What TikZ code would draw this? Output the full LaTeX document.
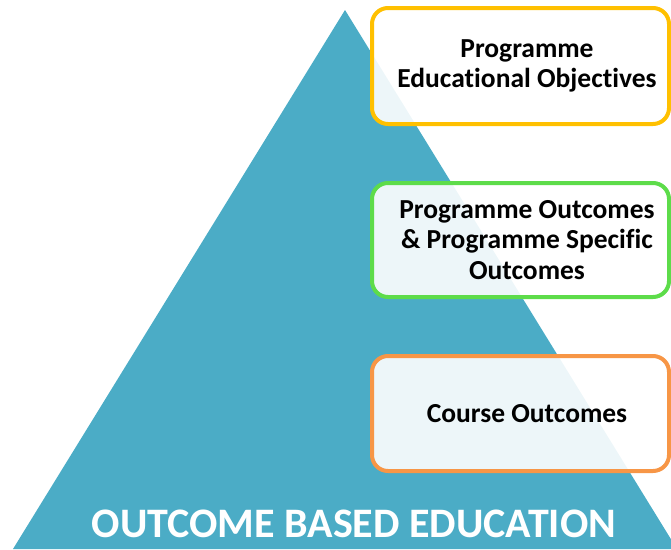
\documentclass[tikz,border=0pt]{standalone}
\usepackage{fontspec}
\setmainfont{Carlito}[Ligatures=NoCommon]
\definecolor{aqua}{HTML}{4BACC6}
\definecolor{boxyellow}{HTML}{FFC000}
\definecolor{boxgreen}{HTML}{5DDC4A}
\definecolor{boxorange}{HTML}{F79646}
\begin{document}
\begin{tikzpicture}[x=1pt,y=-1pt,
  levelbox/.style={line width=4pt, rounded corners=16pt},
  leveltext/.style={font=\bfseries\fontsize{27.5}{30.5}\selectfont, align=center, text=black}]
\useasboundingbox (0,0) rectangle (671,549);
\clip (0,0) rectangle (671,549);
\fill[aqua] (345,10) coordinate (apex) -- (13,549) coordinate (bl) -- (677,549) coordinate (br) -- cycle;
\path[levelbox, fill=white, fill opacity=0.9] (372,8) rectangle (669,124);
\draw[levelbox, draw=boxyellow] (372,8) rectangle (669,124);
\path[levelbox, fill=white, fill opacity=0.9] (372,183) rectangle (669,297);
\draw[levelbox, draw=boxgreen] (372,183) rectangle (669,297);
\path[levelbox, fill=white, fill opacity=0.9] (372,356) rectangle (669,471);
\draw[levelbox, draw=boxorange] (372,356) rectangle (669,471);
\node[leveltext] (peo) at (527,66) {Programme\\Educational Objectives};
\node[leveltext] (po) at (527,240) {Programme Outcomes\\\& Programme Specific\\Outcomes};
\node[leveltext] (co) at (527,414) {Course Outcomes};
\node[font=\bfseries\fontsize{42}{50}\selectfont, text=white, anchor=base, text depth=0pt, inner sep=1pt] (obe) at (354,537) {OUTCOME BASED EDUCATION};
\end{tikzpicture}
\end{document}
